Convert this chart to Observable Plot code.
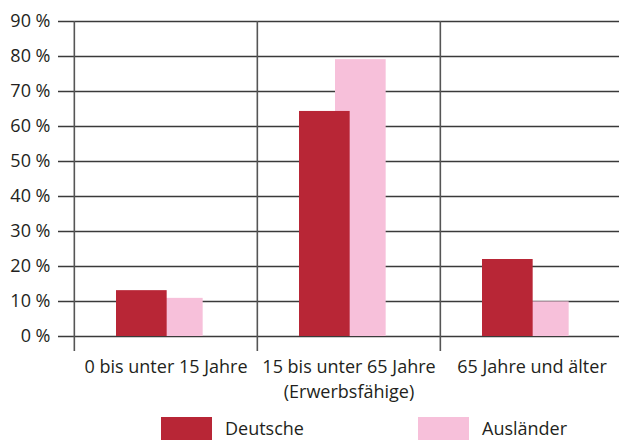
<!DOCTYPE html>
<html>
<head>
<meta charset="utf-8">
<script src="https://cdn.jsdelivr.net/npm/d3@7"></script>
<script src="https://cdn.jsdelivr.net/npm/@observablehq/plot@0.6"></script>
<style>
  html, body { margin: 0; padding: 0; background: #fff; }
  body { width: 619px; height: 440px; overflow: hidden; font-family: "Open Sans", sans-serif; color: #231f20; }
  #chart svg { display: block; }
  #legend { position: relative; height: 35px; width: 619px; }
  .sw { position: absolute; top: 12px; width: 51px; height: 23px; }
  .lb { position: absolute; top: 12px; height: 23px; line-height: 23px; font-size: 18px; white-space: nowrap; }
</style>
</head>
<body>
<div id="chart"></div>
<div id="legend"></div>
<script>
// ---- data ----
const categories = ["0 bis unter 15 Jahre", "15 bis unter 65 Jahre\n(Erwerbsfähige)", "65 Jahre und älter"];
const deutsche = [13.1, 64.3, 22.0];
const auslaender = [10.9, 79.1, 9.9];
const seriesNames = ["Deutsche", "Ausländer"];
const seriesColors = ["#b82636", "#f7c0da"];
const yTicks = [0, 10, 20, 30, 40, 50, 60, 70, 80, 90];

// ---- table ----
const rowsD = categories.map((c, i) => ({category: c, series: seriesNames[0], value: deutsche[i]}));
const rowsA = categories.map((c, i) => ({category: c, series: seriesNames[1], value: auslaender[i]}));

const xRange = [73, 623];
const bw = (xRange[1] - xRange[0]) / categories.length;
const barW = 51;

const chart = Plot.plot({
  width: 619,
  height: 405,
  marginTop: 21,
  marginBottom: 69,
  marginLeft: 73,
  marginRight: 0,
  style: {fontFamily: "Open Sans, sans-serif", fontSize: "18px", color: "#231f20", background: "#fff", overflow: "visible"},
  x: {domain: categories, range: xRange, padding: 0, label: null},
  y: {domain: [0, 90], label: null},
  color: {domain: seriesNames, range: seriesColors},
  marks: [
    Plot.ruleY(yTicks, {y: d => d, stroke: "#3a3a3a", strokeWidth: 1.6, insetLeft: -15}),
    Plot.barY(rowsA, {x: "category", y: "value", fill: "series", insetLeft: 78, insetRight: bw - 78 - barW}),
    Plot.barY(rowsD, {x: "category", y: "value", fill: "series", insetLeft: 42, insetRight: bw - 42 - barW}),
    Plot.tickX(categories, {x: d => d, y1: 90, y2: 0, stroke: "#555", strokeWidth: 1.6, dx: -bw / 2, insetBottom: -15}),
    Plot.axisY({ticks: yTicks, tickFormat: d => d + " %", tickSize: 0, tickPadding: 23, fontSize: 18}),
    Plot.axisX({tickSize: 0, tickPadding: 19, lineHeight: 1.39, fontSize: 18})
  ]
});
document.getElementById("chart").appendChild(chart);

// ---- legend ----
const legend = document.getElementById("legend");
const swX = [161, 418];
const lbX = [225, 482];
seriesNames.forEach((name, i) => {
  const s = document.createElement("div");
  s.className = "sw";
  s.style.left = swX[i] + "px";
  s.style.background = seriesColors[i];
  legend.appendChild(s);
  const l = document.createElement("div");
  l.className = "lb";
  l.style.left = lbX[i] + "px";
  l.textContent = name;
  legend.appendChild(l);
});
</script>
</body>
</html>
